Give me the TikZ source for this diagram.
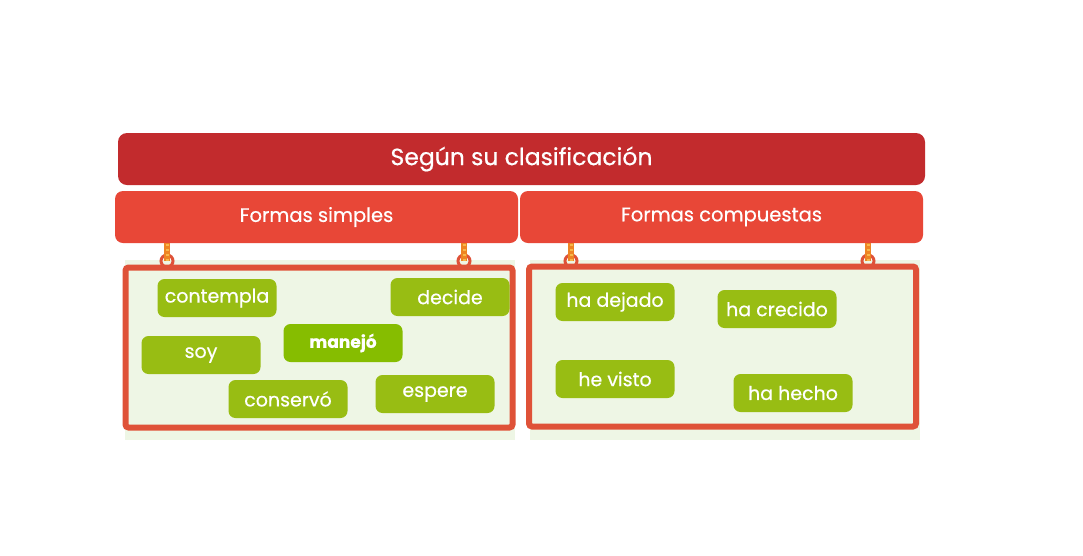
\documentclass[tikz,border=0pt]{standalone}
\usepackage{fontspec}
\setmainfont{Poppins}[FakeBold=0.5]
\newfontfamily\chipbold{Poppins}[FakeBold=0.5,UprightFont=* Bold]
\usetikzlibrary{positioning}
\definecolor{titlered}{HTML}{C22B2D}
\definecolor{bannerred}{HTML}{E84737}
\definecolor{framered}{HTML}{DF5238}
\definecolor{boardgreen}{HTML}{EEF6E5}
\definecolor{chipgreen}{HTML}{98BD13}
\definecolor{chiplime}{HTML}{86BD00}
\definecolor{ropeorange}{HTML}{EE8424}
\definecolor{ropeyellow}{HTML}{F7B84A}

\begin{document}
\begin{tikzpicture}[
    x=1pt,y=-1pt,
    titlebar/.style={rectangle,rounded corners=9pt,fill=titlered,text=white,
      minimum width=807pt,minimum height=52pt,font=\fontsize{23.5}{26}\selectfont},
    banner/.style={rectangle,rounded corners=8pt,fill=bannerred,text=white,
      minimum width=403pt,minimum height=52pt,font=\fontsize{19.5}{22}\selectfont},
    boardbg/.style={rectangle,fill=boardgreen,minimum width=390pt,minimum height=180pt},
    board/.style={rectangle,rounded corners=3pt,draw=framered,line width=6pt,
      minimum width=387pt,minimum height=160pt},
    chip/.style={rectangle,rounded corners=7pt,fill=chipgreen,text=white,
      minimum width=119pt,minimum height=38pt,font=\fontsize{19}{22}\selectfont},
    ring/.style={circle,draw=framered,line width=3pt,minimum size=12pt,inner sep=0pt},
    rope/.style={ropeorange,line width=6pt},
    ropestripe/.style={ropeyellow,line width=3pt,dash pattern=on 2pt off 3pt}
  ]
    \useasboundingbox[fill=white] (0,0) rectangle (1083,555);
    \node[titlebar] (clasif) at (521.5,159) {Según su clasificación};
    \node[banner] (simples) at (316.5,217) {Formas simples};
    \node[banner] (compuestas) at (721.5,217) {Formas compuestas};

    \node[boardbg] (fondosimples) at (320,350) {};
    \node[boardbg] (fondocompuestas) at (724.5,350) {};
    \node[board] (tablasimples) at (319,347.5) {};
    \node[board] (tablacompuestas) at (722.5,346.5) {};

    \foreach \name/\x in {anillo1/167,anillo2/464,anillo3/571,anillo4/868}
      \node[ring] (\name) at (\x,261) {};
    \foreach \name/\ban in {anillo1/simples,anillo2/simples,anillo3/compuestas,anillo4/compuestas} {
      \draw[rope] (\name.center) -- (\name |- \ban.south);
      \draw[ropestripe] (\name.center) -- (\name |- \ban.south);
    }

    \node[chip] (contempla) at (217,298) {contempla};
    \node[chip] (decide) at (450,297) {decide};
    \node[chip] (soy) at (201,355) {soy};
    \node[chip,fill=chiplime,font=\fontsize{17}{20}\chipbold] (manejo) at (343,343) {manejó};
    \node[chip] (conservo) at (288,399) {conservó};
    \node[chip] (espere) at (435,394) {espere};

    \node[chip] (dejado) at (615,302) {ha dejado};
    \node[chip] (crecido) at (777,309) {ha crecido};
    \node[chip] (visto) at (615,379) {he visto};
    \node[chip] (hecho) at (793,393) {ha hecho};
  \end{tikzpicture}
\end{document}
